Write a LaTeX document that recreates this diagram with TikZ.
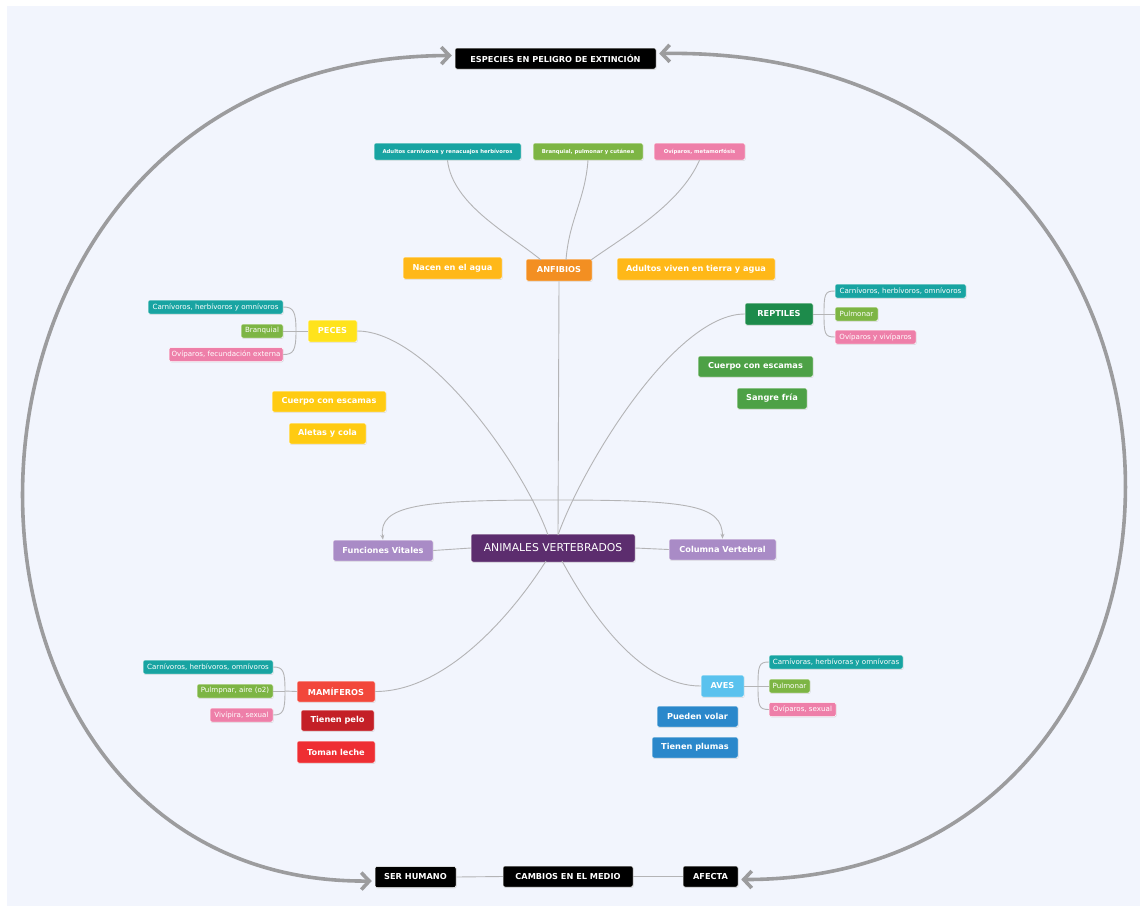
\documentclass[tikz,border=0pt]{standalone}
\usepackage{fontspec}
\setmainfont{DejaVu Sans}
\usetikzlibrary{arrows.meta,shadows,calc}
\definecolor{bg}{HTML}{F2F5FD}
\definecolor{cteal}{HTML}{18A4A2}
\definecolor{cgreen}{HTML}{7DB544}
\definecolor{cpink}{HTML}{EE7FA9}
\definecolor{canf}{HTML}{F38F22}
\definecolor{cnac}{HTML}{FFB818}
\definecolor{cpec}{HTML}{FFE31C}
\definecolor{cpec2}{HTML}{FFCB12}
\definecolor{crep}{HTML}{1D8B4B}
\definecolor{crep2}{HTML}{4DA146}
\definecolor{cav}{HTML}{5C2D6E}
\definecolor{clav}{HTML}{A98BC6}
\definecolor{cmam}{HTML}{F2473B}
\definecolor{cmam2}{HTML}{C42027}
\definecolor{cmam3}{HTML}{EE2E33}
\definecolor{caves}{HTML}{5AC2EE}
\definecolor{caves2}{HTML}{2B88CB}
\definecolor{cline}{HTML}{B4B4B6}
\definecolor{cbig}{HTML}{9C9C9E}
\tikzset{
  box/.style={rounded corners=2pt, text=white, inner sep=0pt, draw=white, line width=0.5pt,
    font=\bfseries\fontsize{8.2}{9.5}\selectfont, minimum height=22pt,
    drop shadow={shadow xshift=0.6pt, shadow yshift=-0.8pt, opacity=0.25}},
  subbox/.style={box, font=\fontsize{7.1}{8}\selectfont, minimum height=14pt},
  tinybox/.style={box, font=\bfseries\fontsize{5.3}{6}\selectfont, minimum height=17pt},
  blk/.style={box, fill=black, minimum height=21pt},
  conn/.style={draw=cline, line width=0.9pt},
  big/.style={draw=cbig, line width=3.6pt, {Straight Barb[length=8pt,width=17pt]}-{Straight Barb[length=8pt,width=17pt]}},
}
\begin{document}
\begin{tikzpicture}[x=1pt,y=-1pt]
\useasboundingbox (0,0) rectangle (1146,908);
\fill[white] (0,0) rectangle (1146,908);
\fill[bg] (7,6) rectangle (1140,906);

% connector anchor coordinates
\coordinate (pj) at (296,331);
\coordinate (rj) at (824,314);
\coordinate (mj) at (285,691);
\coordinate (vj) at (758,686);
\coordinate (avn1) at (548,535);
\coordinate (avn2) at (558,535);
\coordinate (avs1) at (546,561);
\coordinate (avs2) at (562,561);
\coordinate (anfa) at (541,260);
\coordinate (anfb) at (566,260);
\coordinate (anfc) at (591,260);
\coordinate (arc) at (553,500);

% top / bottom
\node[blk, minimum width=201pt] (esp) at (555.5,58.5) {ESPECIES EN PELIGRO DE EXTINCIÓN};
\node[blk, minimum width=81pt] (ser) at (415.5,877) {SER HUMANO};
\node[blk, minimum width=130pt] (cam) at (568,876.5) {CAMBIOS EN EL MEDIO};
\node[blk, minimum width=55pt] (afe) at (710.5,876.5) {AFECTA};

% center
\node[box, fill=cav, font=\fontsize{10.8}{12}\selectfont, minimum width=164pt, minimum height=28pt] (av) at (553,548) {ANIMALES VERTEBRADOS};
\node[box, fill=clav, minimum width=100pt, minimum height=21pt] (fv) at (383,550.5) {Funciones Vitales};
\node[box, fill=clav, minimum width=107pt, minimum height=21pt] (cv) at (722.5,549.5) {Columna Vertebral};

% anfibios
\node[box, fill=canf, minimum width=66pt] (anf) at (559,270) {ANFIBIOS};
\node[box, fill=cnac, minimum width=99pt] (nac) at (452.5,268) {Nacen en el agua};
\node[box, fill=cnac, minimum width=158pt] (adv) at (696,269) {Adultos viven en tierra y agua};
\node[tinybox, fill=cteal, minimum width=147pt] (a1) at (447.5,151.5) {Adultos carnívoros y renacuajos herbívoros};
\node[tinybox, fill=cgreen, minimum width=110pt] (a2) at (588,151.5) {Branquial, pulmonar y cutánea};
\node[tinybox, fill=cpink, minimum width=91pt] (a3) at (699.5,151.5) {Ovíparos, metamorfósis};

% peces
\node[box, fill=cpec, minimum width=49pt] (pec) at (332.5,331) {PECES};
\node[subbox, fill=cteal, minimum width=135pt] (p1) at (215.5,307) {Carnívoros, herbívoros y omnívoros};
\node[subbox, fill=cgreen, minimum width=42pt] (p2) at (262,331) {Branquial};
\node[subbox, fill=cpink, minimum width=114pt] (p3) at (226,354.5) {Ovíparos, fecundación externa};
\node[box, fill=cpec2, minimum width=114pt, minimum height=21pt] (pe1) at (329,401.5) {Cuerpo con escamas};
\node[box, fill=cpec2, minimum width=77pt, minimum height=21pt] (pe2) at (327.5,433.5) {Aletas y cola};

% reptiles
\node[box, fill=crep, minimum width=68pt] (rep) at (779,314) {REPTILES};
\node[subbox, fill=cteal, minimum width=131pt] (r1) at (900.5,291) {Carnívoros, herbívoros, omnívoros};
\node[subbox, fill=cgreen, minimum width=43pt] (r2) at (856.5,314) {Pulmonar};
\node[subbox, fill=cpink, minimum width=81pt] (r3) at (875.5,337) {Ovíparos y vivíparos};
\node[box, fill=crep2, minimum width=115pt, minimum height=21pt] (re1) at (755.5,366.5) {Cuerpo con escamas};
\node[box, fill=crep2, minimum width=70pt, minimum height=21pt] (re2) at (772,398.5) {Sangre fría};

% mamiferos
\node[box, fill=cmam, minimum width=78pt, minimum height=21pt] (mam) at (336,691.5) {MAMÍFEROS};
\node[subbox, fill=cteal, minimum width=130pt] (m1) at (208,667) {Carnívoros, herbívoros, omnívoros};
\node[subbox, fill=cgreen, minimum width=76pt] (m2) at (235,691) {Pulmpnar, aire (o2)};
\node[subbox, fill=cpink, minimum width=63pt] (m3) at (241.5,715) {Vivípira, sexual};
\node[box, fill=cmam2, minimum width=73pt, minimum height=21pt] (ma1) at (337.5,720.5) {Tienen pelo};
\node[box, fill=cmam3, minimum width=78pt] (ma2) at (336,752) {Toman leche};

% aves
\node[box, fill=caves, minimum width=43pt] (ave) at (722.5,686) {AVES};
\node[subbox, fill=cteal, minimum width=134pt] (v1) at (836,662) {Carnívoras, herbívoras y omnívoras};
\node[subbox, fill=cgreen, minimum width=41pt] (v2) at (789.5,686) {Pulmonar};
\node[subbox, fill=cpink, minimum width=67pt] (v3) at (802.5,709.5) {Ovíparos, sexual};
\node[box, fill=caves2, minimum width=81pt, minimum height=21pt] (ve1) at (697.5,716.5) {Pueden volar};
\node[box, fill=caves2, minimum width=86pt, minimum height=21pt] (ve2) at (695,747.5) {Tienen plumas};

% center connections
\draw[conn] (anf.south) -- (avn2);
\draw[conn] (pec.east) .. controls +(70,0) and +(-25,-70) .. (avn1);
\draw[conn] (rep.west) .. controls +(-70,0) and +(25,-70) .. (avn2);
\draw[conn] (mam.east) .. controls +(70,0) and +(-35,55) .. (avs1);
\draw[conn] (ave.west) .. controls +(-60,0) and +(30,55) .. (avs2);
\draw[conn] (av.west) -- (fv.east);
\draw[conn] (av.east) -- (cv.west);
\draw[conn, -{Stealth[length=5pt,width=4pt]}] (arc) .. controls (420,500) and (378,505) .. (fv.north);
\draw[conn, -{Stealth[length=5pt,width=4pt]}] (arc) .. controls (690,500) and (722,505) .. (cv.north);

% anfibios subs
\draw[conn] (a1.south) .. controls +(5,45) and +(-30,-25) .. (anfa);
\draw[conn] (a2.south) .. controls +(-3,40) and +(3,-40) .. (anfb);
\draw[conn] (a3.south) .. controls +(-20,45) and +(35,-25) .. (anfc);

% peces subs
\draw[conn] (pec.west) -- (pj);
\draw[conn] (pj) .. controls +(0,-20) and +(10,0) .. (p1.east);
\draw[conn] (pj) -- (p2.east);
\draw[conn] (pj) .. controls +(0,20) and +(10,0) .. (p3.east);

% reptiles subs
\draw[conn] (rep.east) -- (rj);
\draw[conn] (rj) .. controls +(0,-20) and +(-10,0) .. (r1.west);
\draw[conn] (rj) -- (r2.west);
\draw[conn] (rj) .. controls +(0,20) and +(-10,0) .. (r3.west);

% mamiferos subs
\draw[conn] (mam.west) -- (mj);
\draw[conn] (mj) .. controls +(0,-20) and +(10,0) .. (m1.east);
\draw[conn] (mj) -- (m2.east);
\draw[conn] (mj) .. controls +(0,20) and +(10,0) .. (m3.east);

% aves subs
\draw[conn] (ave.east) -- (vj);
\draw[conn] (vj) .. controls +(0,-20) and +(-10,0) .. (v1.west);
\draw[conn] (vj) -- (v2.west);
\draw[conn] (vj) .. controls +(0,20) and +(-10,0) .. (v3.west);

% bottom chain
\draw[conn] (ser.east) -- (cam.west);
\draw[conn] (cam.east) -- (afe.west);

% big arrows
\draw[big] ([xshift=-3pt,yshift=3pt]esp.west) .. controls (-105,58) and (-105,885) .. ([xshift=-3pt,yshift=-4pt]ser.west);
\draw[big] ([xshift=3pt,yshift=5pt]esp.east) .. controls (1265,45) and (1265,880) .. ([xshift=3pt,yshift=-3pt]afe.east);
\end{tikzpicture}
\end{document}
